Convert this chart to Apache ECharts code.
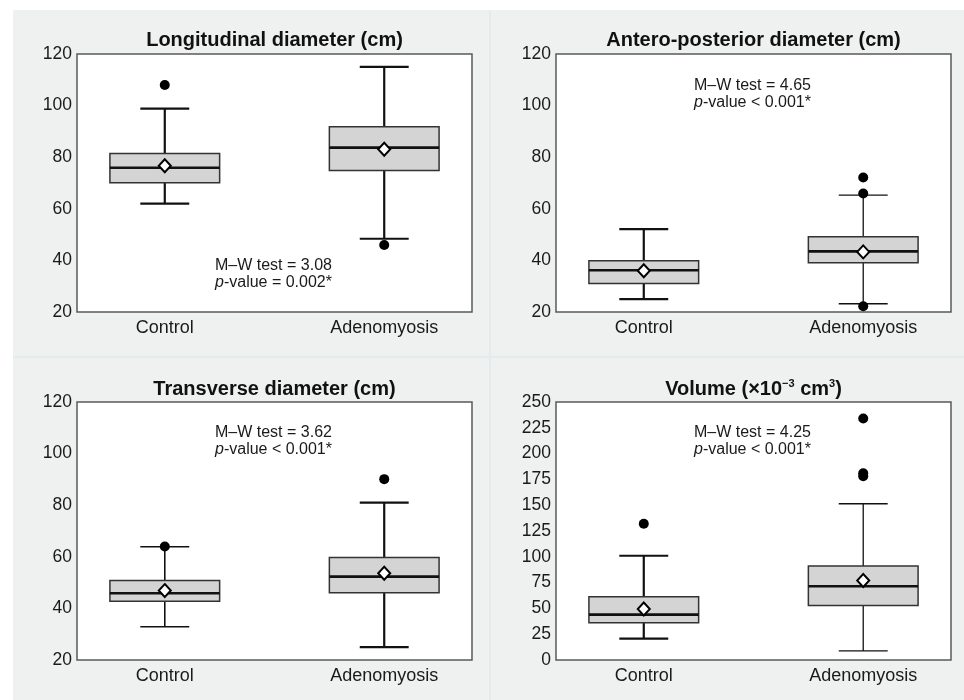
<!DOCTYPE html>
<html>
<head>
<meta charset="utf-8">
<script src="https://cdn.jsdelivr.net/npm/echarts@6/dist/echarts.min.js"></script>
<style>
html,body{margin:0;padding:0;background:#fff;}
#chart{width:964px;height:700px;}
</style>
</head>
<body>
<div id="chart"></div>
<script>
// ---------- data ----------
const categories = ['Control', 'Adenomyosis'];
const categoryPositions = [1, 2];

const panelTitles = ['Longitudinal diameter (cm)', 'Antero-posterior diameter (cm)', 'Transverse diameter (cm)', 'Volume (×10{sup|−3} cm{sup|3})'];

// box stats per group: [lower whisker, Q1, median, Q3, upper whisker]
const longitudinalBox = [[62, 70.1, 75.9, 81.4, 98.8], [48.4, 74.8, 83.7, 91.8, 115]];
const longitudinalMean = [76.7, 83.1];
const longitudinalOutliers = [[108], [46]];

const apBox = [[25, 31, 36.2, 39.9, 52.1], [23.2, 39.1, 43.5, 49.2, 65.3]];
const apMean = [36, 43.3];
const apOutliers = [[], [72.1, 65.9, 22.2]];

const transverseBox = [[32.9, 42.8, 45.9, 50.8, 63.9], [25, 46.1, 52.3, 59.7, 81]];
const transverseMean = [46.9, 53.6];
const transverseOutliers = [[64], [90.1]];

const volumeBox = [[20.7, 36.2, 44, 61.2, 101], [8.8, 52.7, 71.5, 91.2, 151.4]];
const volumeMean = [49.5, 77];
const volumeOutliers = [[132], [234, 181, 178]];

const testStats = ['M–W test = 3.08', 'M–W test = 4.65', 'M–W test = 3.62', 'M–W test = 4.25'];
const pValues = ['-value = 0.002*', '-value < 0.001*', '-value < 0.001*', '-value < 0.001*'];

const yMins = [20, 20, 20, 0];
const yMaxs = [120, 120, 120, 250];
const yIntervals = [20, 20, 20, 25];

// ---------- layout / styles ----------
const grids = [
  {left: 77, top: 54, width: 395, height: 258},
  {left: 556, top: 54, width: 395, height: 258},
  {left: 77, top: 402, width: 395, height: 258},
  {left: 556, top: 402, width: 395, height: 258}
];
const annotPos = [[215, 266], [694, 86], [215, 433], [694, 433]];
const titleY = [40.5, 40.5, 389, 389];
const whiskerWidths = [[2.2, 2.2], [2.2, 1.3], [1.6, 2.2], [2.2, 1.3]];
const FONT = '"Liberation Sans", Arial, sans-serif';

const panels = [
  {box: longitudinalBox, mean: longitudinalMean, out: longitudinalOutliers},
  {box: apBox, mean: apMean, out: apOutliers},
  {box: transverseBox, mean: transverseMean, out: transverseOutliers},
  {box: volumeBox, mean: volumeMean, out: volumeOutliers}
];

const chart = echarts.init(document.getElementById('chart'), null, {renderer: 'canvas'});

const xAxes = [], yAxes = [], series = [], graphics = [];

graphics.push({type: 'rect', z: -100, silent: true, shape: {x: 13, y: 10, width: 951, height: 690}, style: {fill: '#eff1f0'}});
graphics.push({type: 'line', z: -99, silent: true, shape: {x1: 490, y1: 10, x2: 490, y2: 700}, style: {stroke: '#e3ecec', lineWidth: 2}});
graphics.push({type: 'line', z: -99, silent: true, shape: {x1: 13, y1: 357, x2: 964, y2: 357}, style: {stroke: '#e3ecec', lineWidth: 2}});

panels.forEach((p, i) => {
  xAxes.push({
    gridIndex: i, type: 'value', min: 0.6, max: 2.4,
    axisLine: {show: false}, axisTick: {show: false}, splitLine: {show: false},
    axisLabel: {
      customValues: categoryPositions,
      formatter: v => categories[Math.round(v) - 1],
      fontSize: 18, color: '#1a1a1a', margin: 7, fontFamily: FONT
    }
  });
  yAxes.push({
    gridIndex: i, type: 'value', min: yMins[i], max: yMaxs[i], interval: yIntervals[i],
    axisLine: {show: false}, axisTick: {show: false}, splitLine: {show: false},
    axisLabel: {fontSize: 17.5, color: '#1a1a1a', margin: 5, fontFamily: FONT}
  });

  const boxData = p.box.map((b, k) => [categoryPositions[k]].concat(b));
  const ww = whiskerWidths[i];
  series.push({
    type: 'custom', xAxisIndex: i, yAxisIndex: i, z: 2,
    encode: {x: 0, y: [1, 2, 3, 4, 5]},
    data: boxData,
    renderItem: function (params, api) {
      const x = api.value(0);
      const lo = api.coord([x, api.value(1)]);
      const q1 = api.coord([x, api.value(2)]);
      const med = api.coord([x, api.value(3)]);
      const q3 = api.coord([x, api.value(4)]);
      const hi = api.coord([x, api.value(5)]);
      const half = api.size([0.5, 0])[0] / 2;
      const capHalf = api.size([0.223, 0])[0] / 2;
      const cx = lo[0];
      const lw = ww[params.dataIndex];
      const ws = {stroke: '#111', lineWidth: lw};
      return {
        type: 'group',
        children: [
          {type: 'line', shape: {x1: cx, y1: lo[1], x2: cx, y2: q1[1]}, style: ws},
          {type: 'line', shape: {x1: cx, y1: q3[1], x2: cx, y2: hi[1]}, style: ws},
          {type: 'line', shape: {x1: cx - capHalf, y1: lo[1], x2: cx + capHalf, y2: lo[1]}, style: ws},
          {type: 'line', shape: {x1: cx - capHalf, y1: hi[1], x2: cx + capHalf, y2: hi[1]}, style: ws},
          {type: 'rect', shape: {x: cx - half, y: q3[1], width: half * 2, height: q1[1] - q3[1]},
            style: {fill: '#d4d4d4', stroke: '#333', lineWidth: 1.5}},
          {type: 'line', shape: {x1: cx - half, y1: med[1], x2: cx + half, y2: med[1]},
            style: {stroke: '#111', lineWidth: 2.6}}
        ]
      };
    }
  });

  const outData = [];
  p.out.forEach((arr, k) => arr.forEach(v => outData.push([categoryPositions[k], v])));
  series.push({
    type: 'scatter', xAxisIndex: i, yAxisIndex: i, z: 3,
    symbol: 'circle', symbolSize: 10, silent: true,
    itemStyle: {color: '#000', opacity: 1},
    data: outData
  });
  series.push({
    type: 'scatter', xAxisIndex: i, yAxisIndex: i, z: 4,
    symbol: 'diamond', symbolSize: [12, 13], silent: true,
    itemStyle: {color: '#fff', borderColor: '#000', borderWidth: 2, opacity: 1},
    data: p.mean.map((m, k) => [categoryPositions[k], m])
  });

  const g = grids[i];
  graphics.push({
    type: 'text', z: 10,
    style: {
      x: g.left + g.width / 2, y: titleY[i], text: panelTitles[i],
      textAlign: 'center', textVerticalAlign: 'middle',
      font: 'bold 20px ' + FONT, fill: '#111',
      rich: {sup: {fontSize: 11, fontWeight: 'bold', verticalAlign: 'top', padding: [0, 0, 10, 0], fontFamily: FONT}}
    }
  });
  graphics.push({
    type: 'text', z: 10,
    style: {x: annotPos[i][0], y: annotPos[i][1], text: testStats[i], textAlign: 'left', textVerticalAlign: 'middle',
      font: '16px ' + FONT, fill: '#1a1a1a'}
  });
  graphics.push({
    type: 'text', z: 10,
    style: {x: annotPos[i][0], y: annotPos[i][1] + 16.5, text: '{it|p}' + pValues[i], textAlign: 'left', textVerticalAlign: 'middle',
      font: '16px ' + FONT, fill: '#1a1a1a',
      rich: {it: {fontStyle: 'italic', fontSize: 16, fontFamily: FONT, color: '#1a1a1a'}}}
  });
});

chart.setOption({
  backgroundColor: '#ffffff',
  animation: false,
  grid: grids.map(g => Object.assign({show: true, backgroundColor: '#fff', borderColor: '#5a5a5a', borderWidth: 1.5, containLabel: false}, g)),
  xAxis: xAxes,
  yAxis: yAxes,
  series: series,
  graphic: {elements: graphics}
});
</script>
</body>
</html>
